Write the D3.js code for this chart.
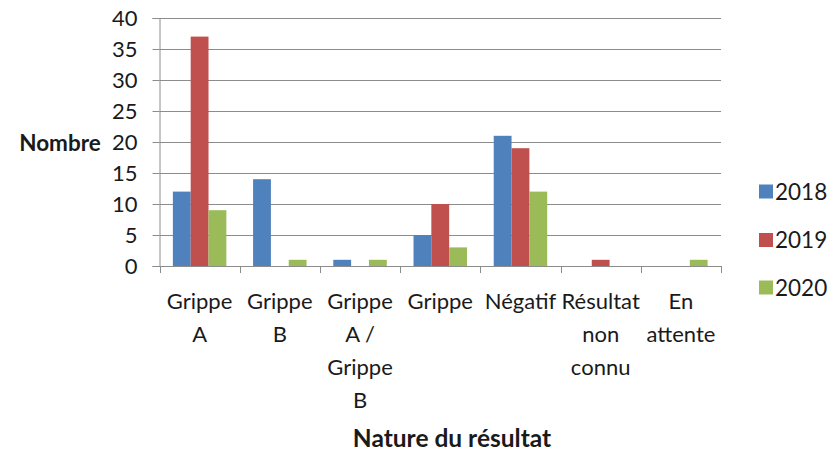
<!DOCTYPE html>
<html><head><meta charset="utf-8">
<script src="https://cdn.jsdelivr.net/npm/d3@7"></script>
<style>
body{margin:0;background:#fff;}
svg{display:block;}
text{font-family:Lato,"Open Sans",sans-serif;fill:#1a1a1a;}
</style></head>
<body>
<svg id="c" width="830" height="451"></svg>
<script>
const categories = ["Grippe A","Grippe B","Grippe A / Grippe B","Grippe","Négatif","Résultat non connu","En attente"];
const tickLabels = [["Grippe","A"],["Grippe","B"],["Grippe","A /","Grippe","B"],["Grippe"],["Négatif"],["Résultat","non","connu"],["En","attente"]];
const seriesNames = ["2018","2019","2020"];
const values2018 = [12,14,1,5,21,0,0];
const values2019 = [37,0,0,10,19,1,0];
const values2020 = [9,1,1,3,12,0,1];
const seriesValues = [values2018, values2019, values2020];
const colors = ["#4F81BD","#C0504D","#9BBB59"];
const yTicks = [0,5,10,15,20,25,30,35,40];

const svg = d3.select("#c");
const L = 159.5, R = 721, T = 18, B = 266;
const x0 = d3.scaleBand().domain(categories).range([L, R]).paddingInner(0).paddingOuter(0);
const x1 = d3.scaleBand().domain(seriesNames).range([0, x0.bandwidth()]).paddingInner(0).paddingOuter(0.75);
const y = d3.scaleLinear().domain([0, 40]).range([B, T]);
const grid = "#8c8c8c";

// gridlines
svg.append("g").selectAll("line").data(yTicks.filter(d => d > 0)).join("line")
  .attr("x1", L).attr("x2", R).attr("y1", d => Math.round(y(d)) + 0.5).attr("y2", d => Math.round(y(d)) + 0.5)
  .attr("stroke", grid).attr("stroke-width", 1);

// y axis
const yAx = svg.append("g").attr("transform", `translate(${L},0)`)
  .call(d3.axisLeft(y).tickValues(yTicks).tickSize(7).tickPadding(15).tickFormat(d3.format("d")));
yAx.select(".domain").attr("stroke", grid);
yAx.selectAll(".tick line").attr("stroke", grid);
yAx.selectAll(".tick text").attr("font-size", 22).attr("font-family", "Lato").attr("fill", "#1a1a1a");

// bars
const groups = svg.append("g").selectAll("g").data(categories).join("g")
  .attr("transform", d => `translate(${x0(d)},0)`);
groups.selectAll("rect").data((d, i) => seriesNames.map((s, j) => ({s, v: seriesValues[j][i], j}))).join("rect")
  .attr("x", d => x1(d.s)).attr("width", x1.bandwidth())
  .attr("y", d => y(d.v)).attr("height", d => y(0) - y(d.v))
  .attr("fill", d => colors[d.j]);

// x axis
const xAx = svg.append("g").attr("transform", `translate(0,${B})`)
  .call(d3.axisBottom(x0).tickSize(0).tickFormat(""));
xAx.select(".domain").attr("stroke", grid);
const edges = categories.map(c => x0(c)).concat([R]);
svg.append("g").selectAll("line").data(edges).join("line")
  .attr("x1", d => Math.round(d) + 0.5).attr("x2", d => Math.round(d) + 0.5)
  .attr("y1", B).attr("y2", B + 7).attr("stroke", grid);

// x labels
const lab = svg.append("g");
categories.forEach((c, i) => {
  const cx = x0(c) + x0.bandwidth() / 2;
  const t = lab.append("text").attr("text-anchor", "middle").attr("font-size", 22).attr("x", cx).attr("y", 309);
  tickLabels[i].forEach((ln, k) => t.append("tspan").attr("x", cx).attr("y", 309 + 33 * k).text(ln));
});

// axis titles
svg.append("text").attr("x", 60).attr("y", 151).attr("text-anchor", "middle")
  .attr("font-size", 22.5).attr("font-weight", "bold").text("Nombre");
svg.append("text").attr("x", 452).attr("y", 447).attr("text-anchor", "middle")
  .attr("font-size", 24.5).attr("font-weight", "bold").text("Nature du résultat");

// legend
const legY = [191.5, 240, 287.5];
const leg = svg.append("g").selectAll("g").data(seriesNames).join("g")
  .attr("transform", (d, i) => `translate(759,${legY[i]})`);
leg.append("rect").attr("x", 0).attr("y", -7).attr("width", 14).attr("height", 14).attr("fill", (d, i) => colors[i]);
leg.append("text").attr("x", 16).attr("y", 8).attr("font-size", 22.5).text(d => d);
</script>
</body></html>
